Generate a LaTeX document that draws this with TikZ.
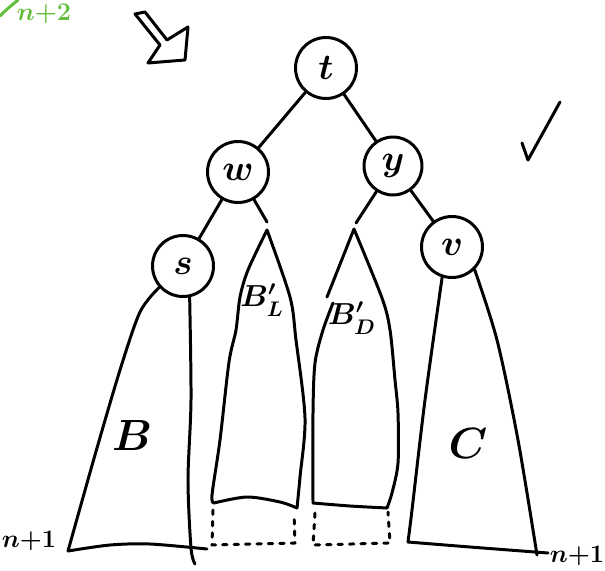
\documentclass[tikz,border=0pt]{standalone}
\usepackage{amsmath,amssymb}
\usepackage{tikz}
\usetikzlibrary{calc}
\definecolor{markgreen}{RGB}{98,190,60}

\begin{document}
\begin{tikzpicture}[x=0.02cm, y=-0.02cm, line width=1.7pt, line cap=round, line join=round,
  every node/.style={font=\boldmath},
  treenode/.style={circle, draw, minimum size=1.22cm, inner sep=0pt, font=\huge\boldmath},
  gapline/.style={dash pattern=on 2.5pt off 4pt},
  edgelabel/.style={inner sep=0pt}]
\useasboundingbox (0,0) rectangle (605,571);

\node (t) at (326,68) [treenode] {$t$};
\node (w) at (238,172) [treenode] {$w$};
\node (y) at (393,166) [treenode, minimum size=1.16cm] {$y$};
\node (s) at (183,266) [treenode] {$s$};
\node (v) at (452,247) [treenode] {$v$};

\coordinate (eL) at (267,222);
\coordinate (eD) at (356,223);
\coordinate (aL) at (267,230);
\coordinate (aD) at (354,229);

\draw (t) -- (w);
\draw (t) -- (y);
\draw (w) -- (s);
\draw (w) -- (eL);
\draw (y) -- (eD);
\draw (y) -- (v);

\draw plot[smooth] coordinates {(s.222) (140,312) (120,370) (95,455) (68,551)};
\draw plot[smooth] coordinates {(s.282) (191,400) (188,480) (191,548) (195,564)};
\draw plot[smooth] coordinates {(68,551) (110,545) (150,544) (207,549)};

\draw plot[smooth] coordinates {(aL) (248,270) (240,297) (236,330) (229,362) (220,440) (212,495) (214,503)};
\draw plot[smooth] coordinates {(aL) (290,297) (296,340) (305,418) (300,477) (297,508)};
\draw plot[smooth] coordinates {(214,503) (247,497) (280,502) (297,508)};

\draw (aD) -- (327,297);
\draw plot[smooth] coordinates {(333,303) (323,330) (315,363) (313,413) (313,503)};
\draw plot[smooth] coordinates {(aD) (382,298) (390,330) (395,380) (398,413) (398,463) (392,493) (387,508)};
\draw plot[smooth] coordinates {(313,503) (350,506) (387,508)};

\draw plot[smooth] coordinates {(v.252) (425,400) (412,510) (408,542)};
\draw plot[smooth] coordinates {(v.315) (497,340) (518,440) (537,555)};
\draw plot[smooth] coordinates {(408,542) (470,547) (548,553)};

\draw[gapline] (213,510) -- (212,545) -- (295,543) -- (294,513);
\draw[gapline] (315,513) -- (313,545) -- (390,543) -- (388,512);

\draw (135,14) -- (160,45) -- (148,63) -- (185,60) -- (188,27) -- (167,40) -- (145,12) -- cycle;
\draw (522,143) -- (528,160) -- (560,102);
\draw[markgreen] (0,16) .. controls (6,10) .. (18,0);

\node (nL) at (29,541) [edgelabel] {\Large $n{+}1$};
\node (nR) at (577,556) [edgelabel] {\Large $n{+}1$};
\node (nT) at (44,14) [edgelabel, markgreen] {\Large $n{+}2$};
\node (Blab) at (132,435) {\Huge $B$};
\node (Clab) at (468,443) {\Huge $C$};
\node (BLlab) at (262,300) {\LARGE $B'_L$};
\node (BDlab) at (352,318) {\LARGE $B'_D$};
\end{tikzpicture}
\end{document}
